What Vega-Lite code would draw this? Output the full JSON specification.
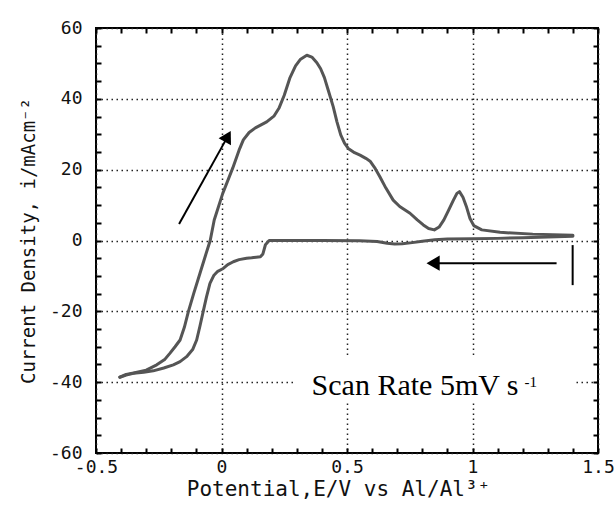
{
  "$schema": "https://vega.github.io/schema/vega-lite/v6.json",
  "width": 502,
  "height": 425,
  "autosize": {"type": "none"},
  "padding": {"left": 96, "top": 28, "right": 18, "bottom": 71},
  "background": "#ffffff",
  "config": {
    "view": {"stroke": "#000000", "strokeWidth": 2},
    "axis": {
      "labelFont": "DejaVu Sans Mono",
      "titleFont": "DejaVu Sans Mono",
      "labelColor": "#111111",
      "titleColor": "#111111",
      "titleFontWeight": "normal",
      "labelFontSize": 18,
      "titleFontSize": 19
    }
  },
  "datasets": {
    "cv": [
      {"scan": "forward", "n": 1, "E": -0.405, "i": -38.6},
      {"scan": "forward", "n": 2, "E": -0.38, "i": -37.8},
      {"scan": "forward", "n": 3, "E": -0.35, "i": -37.4},
      {"scan": "forward", "n": 4, "E": -0.30, "i": -36.6},
      {"scan": "forward", "n": 5, "E": -0.258, "i": -35.1},
      {"scan": "forward", "n": 6, "E": -0.225, "i": -33.5},
      {"scan": "forward", "n": 7, "E": -0.205, "i": -31.8},
      {"scan": "forward", "n": 8, "E": -0.185, "i": -30.0},
      {"scan": "forward", "n": 9, "E": -0.165, "i": -28.1},
      {"scan": "forward", "n": 10, "E": -0.148, "i": -24.5},
      {"scan": "forward", "n": 11, "E": -0.132, "i": -20.1},
      {"scan": "forward", "n": 12, "E": -0.11, "i": -14.8},
      {"scan": "forward", "n": 13, "E": -0.086, "i": -9.3},
      {"scan": "forward", "n": 14, "E": -0.065, "i": -4.5},
      {"scan": "forward", "n": 15, "E": -0.045, "i": 0.0},
      {"scan": "forward", "n": 16, "E": -0.029, "i": 5.8},
      {"scan": "forward", "n": 17, "E": 0.005, "i": 13.3},
      {"scan": "forward", "n": 18, "E": 0.045, "i": 20.5},
      {"scan": "forward", "n": 19, "E": 0.07, "i": 25.5},
      {"scan": "forward", "n": 20, "E": 0.087, "i": 28.4},
      {"scan": "forward", "n": 21, "E": 0.11, "i": 30.5},
      {"scan": "forward", "n": 22, "E": 0.135, "i": 31.8},
      {"scan": "forward", "n": 23, "E": 0.18, "i": 33.5},
      {"scan": "forward", "n": 24, "E": 0.21, "i": 35.2},
      {"scan": "forward", "n": 25, "E": 0.23, "i": 37.5},
      {"scan": "forward", "n": 26, "E": 0.25, "i": 41.0},
      {"scan": "forward", "n": 27, "E": 0.273, "i": 46.0},
      {"scan": "forward", "n": 28, "E": 0.295, "i": 49.3},
      {"scan": "forward", "n": 29, "E": 0.315, "i": 51.2},
      {"scan": "forward", "n": 30, "E": 0.34, "i": 52.3},
      {"scan": "forward", "n": 31, "E": 0.36, "i": 51.8},
      {"scan": "forward", "n": 32, "E": 0.38, "i": 50.2},
      {"scan": "forward", "n": 33, "E": 0.395, "i": 48.5},
      {"scan": "forward", "n": 34, "E": 0.41, "i": 46.0},
      {"scan": "forward", "n": 35, "E": 0.425, "i": 42.5},
      {"scan": "forward", "n": 36, "E": 0.445, "i": 37.8},
      {"scan": "forward", "n": 37, "E": 0.46, "i": 33.5},
      {"scan": "forward", "n": 38, "E": 0.475, "i": 29.8},
      {"scan": "forward", "n": 39, "E": 0.49, "i": 27.5},
      {"scan": "forward", "n": 40, "E": 0.505, "i": 26.0},
      {"scan": "forward", "n": 41, "E": 0.53, "i": 24.8},
      {"scan": "forward", "n": 42, "E": 0.552, "i": 24.1},
      {"scan": "forward", "n": 43, "E": 0.575, "i": 23.2},
      {"scan": "forward", "n": 44, "E": 0.592, "i": 22.4},
      {"scan": "forward", "n": 45, "E": 0.61, "i": 20.6},
      {"scan": "forward", "n": 46, "E": 0.631, "i": 18.0},
      {"scan": "forward", "n": 47, "E": 0.655, "i": 14.8},
      {"scan": "forward", "n": 48, "E": 0.684, "i": 11.4},
      {"scan": "forward", "n": 49, "E": 0.71, "i": 9.6},
      {"scan": "forward", "n": 50, "E": 0.751, "i": 7.7},
      {"scan": "forward", "n": 51, "E": 0.78, "i": 5.8},
      {"scan": "forward", "n": 52, "E": 0.804, "i": 4.4},
      {"scan": "forward", "n": 53, "E": 0.825, "i": 3.4},
      {"scan": "forward", "n": 54, "E": 0.848, "i": 3.0},
      {"scan": "forward", "n": 55, "E": 0.867, "i": 3.8},
      {"scan": "forward", "n": 56, "E": 0.886, "i": 5.8},
      {"scan": "forward", "n": 57, "E": 0.905, "i": 8.6},
      {"scan": "forward", "n": 58, "E": 0.924, "i": 11.4},
      {"scan": "forward", "n": 59, "E": 0.938, "i": 13.3},
      {"scan": "forward", "n": 60, "E": 0.948, "i": 13.8},
      {"scan": "forward", "n": 61, "E": 0.962, "i": 12.2},
      {"scan": "forward", "n": 62, "E": 0.977, "i": 9.3},
      {"scan": "forward", "n": 63, "E": 0.99, "i": 6.2},
      {"scan": "forward", "n": 64, "E": 1.005, "i": 4.2},
      {"scan": "forward", "n": 65, "E": 1.037, "i": 3.0},
      {"scan": "forward", "n": 66, "E": 1.11, "i": 2.3},
      {"scan": "forward", "n": 67, "E": 1.24, "i": 1.8},
      {"scan": "forward", "n": 68, "E": 1.40, "i": 1.5},
      {"scan": "reverse", "n": 69, "E": 1.40, "i": 1.2},
      {"scan": "reverse", "n": 70, "E": 1.30, "i": 1.0},
      {"scan": "reverse", "n": 71, "E": 1.20, "i": 0.8},
      {"scan": "reverse", "n": 72, "E": 1.10, "i": 0.6},
      {"scan": "reverse", "n": 73, "E": 1.00, "i": 0.5},
      {"scan": "reverse", "n": 74, "E": 0.90, "i": 0.4},
      {"scan": "reverse", "n": 75, "E": 0.85, "i": 0.2},
      {"scan": "reverse", "n": 76, "E": 0.80, "i": -0.2},
      {"scan": "reverse", "n": 77, "E": 0.76, "i": -0.6},
      {"scan": "reverse", "n": 78, "E": 0.72, "i": -0.9},
      {"scan": "reverse", "n": 79, "E": 0.69, "i": -1.0},
      {"scan": "reverse", "n": 80, "E": 0.66, "i": -0.8},
      {"scan": "reverse", "n": 81, "E": 0.62, "i": -0.3},
      {"scan": "reverse", "n": 82, "E": 0.55, "i": -0.1},
      {"scan": "reverse", "n": 83, "E": 0.40, "i": 0.0},
      {"scan": "reverse", "n": 84, "E": 0.25, "i": 0.0},
      {"scan": "reverse", "n": 85, "E": 0.19, "i": 0.0},
      {"scan": "reverse", "n": 86, "E": 0.175, "i": -1.2},
      {"scan": "reverse", "n": 87, "E": 0.165, "i": -3.8},
      {"scan": "reverse", "n": 88, "E": 0.155, "i": -4.6},
      {"scan": "reverse", "n": 89, "E": 0.12, "i": -4.9},
      {"scan": "reverse", "n": 90, "E": 0.10, "i": -5.0},
      {"scan": "reverse", "n": 91, "E": 0.07, "i": -5.4},
      {"scan": "reverse", "n": 92, "E": 0.047, "i": -6.0},
      {"scan": "reverse", "n": 93, "E": 0.025, "i": -6.8},
      {"scan": "reverse", "n": 94, "E": 0.007, "i": -7.9},
      {"scan": "reverse", "n": 95, "E": -0.015, "i": -8.7},
      {"scan": "reverse", "n": 96, "E": -0.03, "i": -9.8},
      {"scan": "reverse", "n": 97, "E": -0.046, "i": -12.1},
      {"scan": "reverse", "n": 98, "E": -0.06, "i": -16.0},
      {"scan": "reverse", "n": 99, "E": -0.073, "i": -20.1},
      {"scan": "reverse", "n": 100, "E": -0.086, "i": -24.2},
      {"scan": "reverse", "n": 101, "E": -0.099, "i": -28.1},
      {"scan": "reverse", "n": 102, "E": -0.115, "i": -30.8},
      {"scan": "reverse", "n": 103, "E": -0.139, "i": -32.8},
      {"scan": "reverse", "n": 104, "E": -0.165, "i": -34.2},
      {"scan": "reverse", "n": 105, "E": -0.192, "i": -35.1},
      {"scan": "reverse", "n": 106, "E": -0.23, "i": -36.0},
      {"scan": "reverse", "n": 107, "E": -0.272, "i": -36.8},
      {"scan": "reverse", "n": 108, "E": -0.31, "i": -37.2},
      {"scan": "reverse", "n": 109, "E": -0.351, "i": -37.5},
      {"scan": "reverse", "n": 110, "E": -0.38, "i": -38.0},
      {"scan": "reverse", "n": 111, "E": -0.405, "i": -38.6}
    ],
    "arrows": [
      {"name": "anodic", "E": -0.169, "i": 4.66, "E2": 0.025, "i2": 29.4},
      {"name": "cathodic", "E": 1.335, "i": -6.4, "E2": 0.843, "i2": -6.4},
      {"name": "start", "E": 1.399, "i": -1.3, "E2": 1.399, "i2": -12.6}
    ],
    "box": [
      {"E": 0.285, "i": -32.3, "E2": 1.408, "i2": -45.9}
    ],
    "labels": [
      {"part": "main", "E": 0.359, "i": -43.6, "text": "Scan Rate 5mV s"},
      {"part": "sup", "E": 1.207, "i": -41.4, "text": "-1"}
    ]
  },
  "resolve": {"axis": {"x": "independent", "y": "independent"}},
  "layer": [
    {
      "data": {"name": "box"},
      "mark": {"type": "rect", "color": "#ffffff"},
      "encoding": {
        "x": {
          "field": "E", "type": "quantitative",
          "scale": {"domain": [-0.5, 1.5], "nice": false, "zero": false},
          "axis": {
            "orient": "bottom",
            "values": [-0.5, 0, 0.5, 1, 1.5],
            "labelExpr": "'' + datum.value",
            "ticks": false,
            "domain": false,
            "grid": true,
            "gridDash": [1.5, 3.5],
            "gridColor": "#222222",
            "gridWidth": 1.5,
            "labelPadding": 5,
            "labelFlush": false,
            "title": "Potential,E/V vs Al/Al³⁺",
            "titleFontSize": 21,
            "titleX": 242,
            "titlePadding": 2
          }
        },
        "x2": {"field": "E2"},
        "y": {
          "field": "i", "type": "quantitative",
          "scale": {"domain": [-60, 60], "nice": false, "zero": false},
          "axis": {
            "orient": "left",
            "values": [-60, -40, -20, 0, 20, 40, 60],
            "labelExpr": "'' + datum.value",
            "ticks": false,
            "domain": false,
            "grid": true,
            "gridDash": [1.5, 3.5],
            "gridColor": "#222222",
            "gridWidth": 1.5,
            "labelPadding": 14,
            "labelFlush": false,
            "title": "Current Density, i/mAcm⁻²",
            "titlePadding": 11
          }
        },
        "y2": {"field": "i2"}
      }
    },
    {
      "data": {"name": "cv"},
      "mark": {"type": "line", "color": "#555555", "strokeWidth": 3, "strokeJoin": "round", "strokeCap": "round"},
      "encoding": {
        "x": {
          "field": "E", "type": "quantitative",
          "axis": {
            "orient": "bottom",
            "values": [-0.5, -0.4, -0.3, -0.2, -0.1, 0, 0.1, 0.2, 0.3, 0.4, 0.5, 0.6, 0.7, 0.8, 0.9, 1, 1.1, 1.2, 1.3, 1.4, 1.5],
            "labels": false, "domain": false, "grid": false,
            "tickSize": -5, "tickColor": "#000000", "tickWidth": 2,
            "title": null
          }
        },
        "y": {
          "field": "i", "type": "quantitative",
          "axis": {
            "orient": "left",
            "values": [-60, -55, -50, -45, -40, -35, -30, -25, -20, -15, -10, -5, 0, 5, 10, 15, 20, 25, 30, 35, 40, 45, 50, 55, 60],
            "labels": false, "domain": false, "grid": false,
            "tickSize": -5, "tickColor": "#000000", "tickWidth": 2,
            "title": null
          }
        },
        "detail": {"field": "scan"},
        "order": {"field": "n", "type": "quantitative"}
      }
    },
    {
      "data": {"name": "arrows"},
      "mark": {"type": "rule", "color": "#000000", "strokeWidth": 2},
      "encoding": {
        "x": {
          "field": "E", "type": "quantitative",
          "axis": {
            "orient": "top",
            "values": [-0.5, -0.4, -0.3, -0.2, -0.1, 0, 0.1, 0.2, 0.3, 0.4, 0.5, 0.6, 0.7, 0.8, 0.9, 1, 1.1, 1.2, 1.3, 1.4, 1.5],
            "labels": false, "domain": false, "grid": false,
            "tickSize": -5, "tickColor": "#000000", "tickWidth": 2,
            "title": null
          }
        },
        "x2": {"field": "E2"},
        "y": {
          "field": "i", "type": "quantitative",
          "axis": {
            "orient": "right",
            "values": [-60, -55, -50, -45, -40, -35, -30, -25, -20, -15, -10, -5, 0, 5, 10, 15, 20, 25, 30, 35, 40, 45, 50, 55, 60],
            "labels": false, "domain": false, "grid": false,
            "tickSize": -5, "tickColor": "#000000", "tickWidth": 2,
            "title": null
          }
        },
        "y2": {"field": "i2"}
      }
    },
    {
      "data": {"name": "arrows"},
      "transform": [{"filter": "datum.name === 'anodic'"}],
      "mark": {"type": "point", "shape": "triangle-up", "angle": 29, "size": 200, "filled": true, "color": "#000000", "opacity": 1},
      "encoding": {
        "x": {"field": "E2", "type": "quantitative", "axis": null},
        "y": {"field": "i2", "type": "quantitative", "axis": null}
      }
    },
    {
      "data": {"name": "arrows"},
      "transform": [{"filter": "datum.name === 'cathodic'"}],
      "mark": {"type": "point", "shape": "triangle-left", "size": 230, "filled": true, "color": "#000000", "opacity": 1},
      "encoding": {
        "x": {"field": "E2", "type": "quantitative", "axis": null},
        "y": {"field": "i2", "type": "quantitative", "axis": null}
      }
    },
    {
      "data": {"name": "labels"},
      "transform": [{"filter": "datum.part === 'main'"}],
      "mark": {"type": "text", "font": "Liberation Serif", "fontSize": 30, "align": "left", "baseline": "alphabetic", "color": "#000000"},
      "encoding": {
        "x": {"field": "E", "type": "quantitative", "axis": null},
        "y": {"field": "i", "type": "quantitative", "axis": null},
        "text": {"field": "text"}
      }
    },
    {
      "data": {"name": "labels"},
      "transform": [{"filter": "datum.part === 'sup'"}],
      "mark": {"type": "text", "font": "Liberation Serif", "fontSize": 15, "align": "left", "baseline": "alphabetic", "color": "#000000"},
      "encoding": {
        "x": {"field": "E", "type": "quantitative", "axis": null},
        "y": {"field": "i", "type": "quantitative", "axis": null},
        "text": {"field": "text"}
      }
    }
  ]
}
